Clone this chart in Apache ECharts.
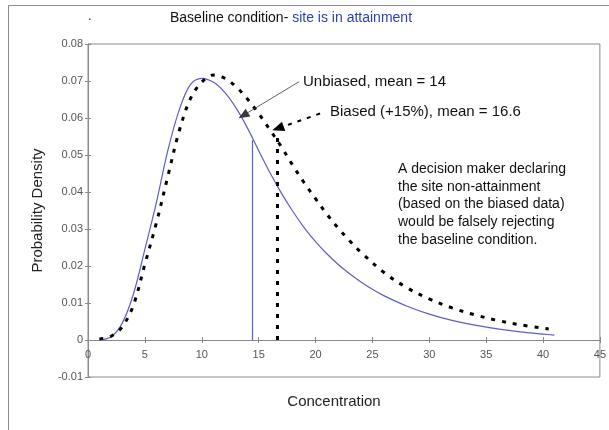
<!DOCTYPE html>
<html><head><meta charset="utf-8">
<script src="https://cdn.jsdelivr.net/npm/echarts@6/dist/echarts.min.js"></script>
<style>html,body{margin:0;padding:0;background:#fff}#c{width:609px;height:430px}</style>
</head><body><div id="c"></div>
<script>
// Unbiased distribution (blue solid)
const unbiasedX = [1, 2, 3, 4, 5, 6, 7, 8, 9, 10, 11, 12, 13, 14, 15, 16, 17, 18, 19, 20, 21, 22, 23, 24, 25, 26, 28, 30, 32, 34, 36, 38, 40, 41];
const unbiasedY = [0, 0.0008, 0.0045, 0.0125, 0.0245, 0.037, 0.051, 0.062, 0.069, 0.0707, 0.0697, 0.067, 0.0628, 0.0574, 0.0512, 0.0452, 0.0397, 0.0348, 0.0304, 0.0266, 0.0233, 0.0204, 0.0179, 0.0157, 0.0137, 0.012, 0.0092, 0.007, 0.0053, 0.004, 0.003, 0.0022, 0.0016, 0.0013];
// Biased (+15%) distribution (black dashed)
const biasedX = [1, 2, 3, 4, 5, 6, 7, 8, 9, 10, 11, 12, 13, 14, 15, 16, 17, 18, 19, 20, 21, 22, 23, 24, 26, 28, 30, 32, 34, 36, 38, 40.5];
const biasedY = [0.0003, 0.001, 0.0035, 0.0095, 0.0205, 0.0315, 0.044, 0.0563, 0.0652, 0.0697, 0.0716, 0.0708, 0.0685, 0.0652, 0.0612, 0.0568, 0.0522, 0.0472, 0.0425, 0.0382, 0.034, 0.0302, 0.0268, 0.0237, 0.0183, 0.0142, 0.0111, 0.0087, 0.0068, 0.0053, 0.0041, 0.003];
// Mean marker lines: [x, top y]
const unbiasedMean = [14.4, 0.054];
const biasedMean = [16.6, 0.0555];
// Annotation arrows: [from, to]
const unbiasedArrow = [[18.55, 0.0698], [13.65, 0.0607]];
const biasedArrow = [[20.4, 0.0612], [16.7, 0.0572]];
// Axis ticks
const xTicks = {min: 0, max: 45, interval: 5};
const yTicks = {min: -0.01, max: 0.08, interval: 0.01};

const FONT = "'Liberation Sans', Arial, sans-serif";
const BLUE = '#5e5ec8';
const GRID = {left: 88, right: 2, top: 44, bottom: 53};
const chart = echarts.init(document.getElementById('c'), null, {renderer: 'canvas'});
const zip = (xs, ys) => xs.map((x, i) => [x, ys[i]]);
const fmtY = v => String(Math.round(v * 100) / 100);

// pixel distance from the bottom / top of the plot to y = 0 (x axis crosses there)
const plotH = 430 - GRID.top - GRID.bottom;
const zeroFromBottom = plotH * (0 - yTicks.min) / (yTicks.max - yTicks.min);
const zeroFromTop = plotH - zeroFromBottom;

const axisCommonX = {type: 'value', min: xTicks.min, max: xTicks.max, interval: xTicks.interval, splitLine: {show: false}};
const axisCommonY = {type: 'value', min: yTicks.min, max: yTicks.max, interval: yTicks.interval, splitLine: {show: false}};
const tickStyle = {color: '#8a8a8a', width: 1};

chart.setOption({
  animation: false,
  backgroundColor: '#fff',
  grid: Object.assign({show: true, borderColor: '#8a8a8a', borderWidth: 1, containLabel: false}, GRID),
  xAxis: [
    Object.assign({}, axisCommonX, {
      position: 'bottom', offset: -zeroFromBottom,
      axisLine: {onZero: false, lineStyle: {color: '#8a8a8a', width: 1}},
      axisTick: {inside: false, length: 3, lineStyle: tickStyle},
      axisLabel: {color: '#555', fontSize: 11, fontFamily: FONT, margin: 9}
    }),
    Object.assign({}, axisCommonX, {
      position: 'top', offset: -zeroFromTop,
      axisLine: {show: false, onZero: false},
      axisTick: {inside: false, length: 3, lineStyle: tickStyle},
      axisLabel: {show: false}
    })
  ],
  yAxis: [
    Object.assign({}, axisCommonY, {
      position: 'left',
      axisLine: {show: true, onZero: false, lineStyle: {color: '#8a8a8a'}},
      axisTick: {inside: false, length: 3, lineStyle: tickStyle},
      axisLabel: {color: '#555', fontSize: 11, fontFamily: FONT, margin: 5, formatter: fmtY},
      name: 'Probability Density', nameLocation: 'middle', nameGap: 43,
      nameTextStyle: {color: '#222', fontSize: 15, fontFamily: FONT}
    }),
    Object.assign({}, axisCommonY, {
      position: 'left',
      axisLine: {show: false, onZero: false},
      axisTick: {inside: true, length: 3, lineStyle: tickStyle},
      axisLabel: {show: false}
    })
  ],
  series: [
    {
      name: 'Unbiased', type: 'line', data: zip(unbiasedX, unbiasedY), smooth: 0.35,
      showSymbol: false, lineStyle: {color: BLUE, width: 1.2}, z: 3,
      markLine: {
        silent: true, symbol: ['none', 'none'], label: {show: false},
        data: [
          [{coord: [unbiasedMean[0], 0], lineStyle: {color: BLUE, width: 1.2, type: 'solid'}}, {coord: [unbiasedMean[0], unbiasedMean[1]]}],
          [{coord: unbiasedArrow[0], symbol: 'none', lineStyle: {color: '#3a3a3a', width: 0.8, type: 'solid'}},
           {coord: unbiasedArrow[1], symbol: 'triangle', symbolSize: [9, 11]}]
        ]
      }
    },
    {
      name: 'Biased', type: 'line', data: zip(biasedX, biasedY), smooth: 0.35,
      showSymbol: false, lineStyle: {color: '#000', width: 3, type: [4, 7]}, z: 4,
      markLine: {
        silent: true, symbol: ['none', 'none'], label: {show: false},
        data: [
          [{coord: [biasedMean[0], 0], lineStyle: {color: '#000', width: 3, type: [4, 7]}}, {coord: [biasedMean[0], biasedMean[1]]}],
          [{coord: biasedArrow[0], symbol: 'none', lineStyle: {color: '#000', width: 2, type: [4, 6]}},
           {coord: biasedArrow[1], symbol: 'triangle', symbolSize: [10, 12]}]
        ]
      }
    }
  ],
  graphic: [
    {type: 'rect', silent: true, shape: {x: 8.5, y: 5.5, width: 700, height: 500}, style: {fill: 'none', stroke: '#8a8a8a', lineWidth: 1}, z: -1},
    {type: 'text', left: 88, top: 10, style: {text: '.', fill: '#333', font: '13px ' + FONT}},
    {type: 'text', x: 170, y: 18, style: {
      text: '{a|Baseline condition- }{b|site is in attainment}', verticalAlign: 'middle',
      rich: {a: {fill: '#111', fontSize: 14, fontFamily: FONT}, b: {fill: '#2a3fb5', fontSize: 14, fontFamily: FONT}}
    }},
    {type: 'text', x: 334, y: 402, style: {text: 'Concentration', fill: '#222', font: '15px ' + FONT, align: 'center', verticalAlign: 'middle'}},
    {type: 'text', x: 303, y: 82, style: {text: 'Unbiased, mean = 14', fill: '#111', font: '15px ' + FONT, verticalAlign: 'middle'}},
    {type: 'text', x: 330, y: 112, style: {text: 'Biased (+15%), mean = 16.6', fill: '#111', font: '15px ' + FONT, verticalAlign: 'middle'}},
    {type: 'text', x: 398, y: 160, style: {
      text: 'A decision maker declaring\nthe site non-attainment\n(based on the biased data)\nwould be falsely rejecting\nthe baseline condition.',
      fill: '#111', font: '14px ' + FONT, lineHeight: 17.8, verticalAlign: 'top'
    }}
  ]
});
</script>
</body></html>
